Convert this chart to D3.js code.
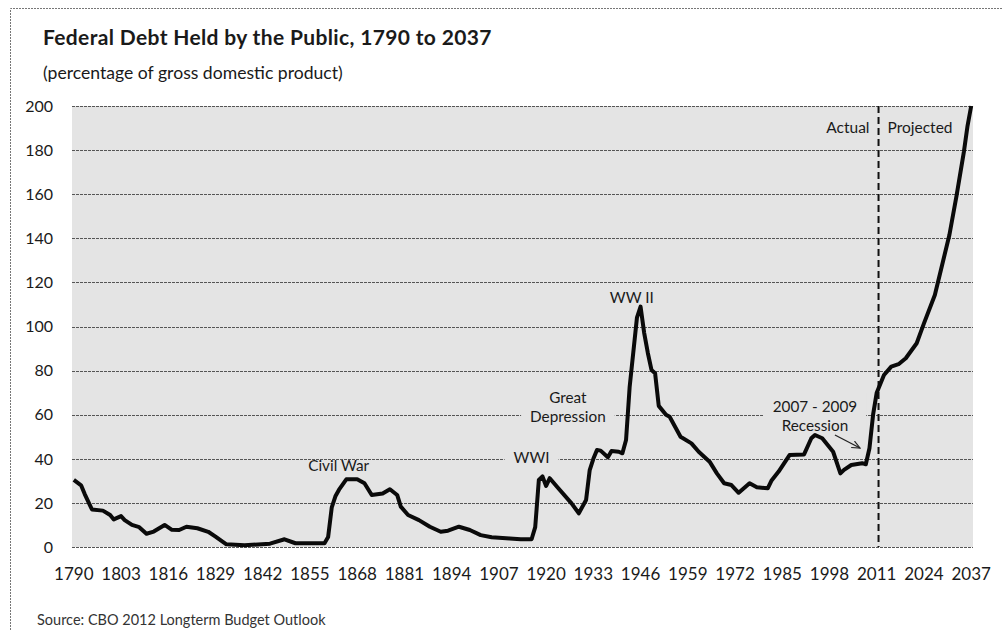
<!DOCTYPE html>
<html>
<head>
<meta charset="utf-8">
<script src="https://cdn.jsdelivr.net/npm/d3@7"></script>
<style>
    body { margin: 0; background: #fff; }
    text { font-family: Lato, "Open Sans", sans-serif; fill: #1a1a1a; }
</style>
</head>
<body>
<div id="chart-container"></div>
<script>
// values (percent of GDP)
const years = [1790, 1792, 1793, 1795, 1798, 1800, 1801, 1803, 1804, 1806, 1808, 1810, 1812, 1815, 1817, 1819,
    1821, 1824, 1827, 1829, 1832, 1837, 1844, 1848, 1851, 1859, 1860, 1861, 1862, 1863, 1865, 1868, 1870,
    1872, 1875, 1877, 1879, 1880, 1882, 1885, 1888, 1891, 1893, 1896, 1899, 1902, 1905, 1910, 1913, 1916,
    1917, 1918, 1919, 1920, 1921, 1923, 1927, 1929, 1931, 1932, 1933, 1934, 1935, 1937, 1938, 1940, 1941,
    1942, 1943, 1945, 1946, 1947, 1948, 1949, 1950, 1951, 1953, 1954, 1957, 1960, 1962, 1965, 1967, 1969,
    1971, 1973, 1976, 1978, 1981, 1982, 1984, 1987, 1991, 1993, 1994, 1996, 1999, 2001, 2002, 2004, 2007,
    2008, 2009, 2010, 2011, 2013, 2015, 2017, 2019, 2022, 2024, 2027, 2029, 2031, 2033, 2035, 2036, 2037];
const debt = [30.4, 28, 24, 17, 16.5, 14.5, 12.5, 14, 12.2, 10, 9, 6, 7, 10, 7.8, 7.7,
    9.2, 8.5, 6.9, 4.7, 1.2, 0.8, 1.5, 3.5, 1.7, 1.7, 4.5, 18, 23, 26, 30.7, 30.7, 28.9,
    23.6, 24.3, 26.2, 23.6, 18.3, 14.5, 12.2, 9.2, 6.9, 7.4, 9.2, 7.7, 5.4, 4.4, 3.9, 3.5, 3.5,
    9, 30.4, 32, 27.7, 31.2, 27.3, 19.8, 15.3, 21.3, 34.9, 40, 44, 43.7, 40.7, 43.5, 43.2, 42.5,
    48.5, 72.7, 104, 109, 97, 88, 80.3, 78.8, 64, 60, 59.1, 50, 47, 43.2, 38.7, 33.4, 28.9,
    28.1, 24.6, 28.9, 27.1, 26.6, 30, 34.2, 41.7, 42, 49.3, 50.8, 49.3, 43.2, 33.4, 35, 37.2, 38,
    37.5, 44.8, 60, 70, 78, 81.8, 82.9, 85.6, 92.4, 101.4, 114.3, 127.9, 141.5, 159.6, 179.3, 191, 200];

const yTicks = [0, 20, 40, 60, 80, 100, 120, 140, 160, 180, 200];
const xTickYears = d3.range(1790, 2038, 13);
const projectionStart = 2011.5;

const annotations = [
    { lines: ["Civil War"], year: 1862.9, value: 34.5, box: false },
    { lines: ["WWI"], year: 1916, value: 38.1, box: true },
    { lines: ["Great", "Depression"], year: 1926, value: 65.3, box: true },
    { lines: ["WW II"], year: 1943.6, value: 110.7, box: false },
    { lines: ["2007 - 2009", "Recession"], year: 1994, value: 61.2, box: true }
];

function makeChart() {
    const W = 1002, H = 630;
    const margin = { top: 106, right: 29, bottom: 83, left: 72 };
    const width = W - margin.left - margin.right;
    const height = H - margin.top - margin.bottom;

    const root = d3.select("#chart-container")
        .append("svg")
        .attr("width", W)
        .attr("height", H);

    // dotted frame round the whole figure
    root.append("path")
        .attr("d", "M10.5,630 L10.5,8.5 L1002,8.5")
        .attr("fill", "none")
        .attr("stroke", "#777")
        .attr("stroke-dasharray", "2,1");

    root.append("text")
        .attr("x", 43).attr("y", 45)
        .style("font-size", "21px")
        .style("font-weight", "bold")
        .style("letter-spacing", "0.35px")
        .text("Federal Debt Held by the Public, 1790 to 2037");

    root.append("text")
        .attr("x", 43).attr("y", 79)
        .style("font-size", "17.6px")
        .text("(percentage of gross domestic product)");

    root.append("text")
        .attr("x", 37).attr("y", 625)
        .style("font-size", "14.5px")
        .style("fill", "#333")
        .text("Source: CBO 2012 Longterm Budget Outlook");

    const svg = root.append("g")
        .attr("transform", "translate(" + margin.left + "," + margin.top + ")");

    const x = d3.scaleLinear().domain([1789.5, 2037.5]).range([0, width]);
    const y = d3.scaleLinear().domain([0, 200]).range([height, 0]);

    const bg = "#e4e4e4";
    svg.append("rect")
        .attr("width", width)
        .attr("height", height)
        .attr("fill", bg);

    svg.selectAll(".grid")
        .data(yTicks)
        .enter()
        .append("line")
        .attr("class", "grid")
        .attr("x1", 0).attr("x2", width)
        .attr("y1", d => Math.round(y(d)) + 0.5)
        .attr("y2", d => Math.round(y(d)) + 0.5)
        .attr("stroke", "#555")
        .attr("stroke-width", 1.2)
        .attr("stroke-dasharray", "3,1");

    svg.selectAll(".ylab")
        .data(yTicks)
        .enter()
        .append("text")
        .attr("class", "ylab")
        .attr("x", -19)
        .attr("y", d => y(d))
        .attr("dy", "0.36em")
        .style("text-anchor", "end")
        .style("font-size", "16px")
        .text(d => d);

    svg.selectAll(".xlab")
        .data(xTickYears)
        .enter()
        .append("text")
        .attr("class", "xlab")
        .attr("x", d => x(d))
        .attr("y", height + 33)
        .style("text-anchor", "middle")
        .style("font-size", "17px")
        .text(d => d);

    // annotation labels, boxes hide the gridlines behind them
    annotations.forEach(a => {
        const g = svg.append("g");
        const t = g.append("text")
            .attr("x", x(a.year))
            .attr("y", y(a.value))
            .style("text-anchor", "middle")
            .style("font-size", "15.3px");
        a.lines.forEach((l, i) => {
            t.append("tspan")
                .attr("x", x(a.year))
                .attr("dy", i === 0 ? 0 : 19)
                .text(l);
        });
        if (a.box) {
            const b = t.node().getBBox();
            g.insert("rect", "text")
                .attr("x", b.x - 9)
                .attr("y", b.y - 5)
                .attr("width", b.width + 18)
                .attr("height", b.height + 10)
                .attr("fill", bg);
        }
    });

    // actual / projected divider
    svg.append("line")
        .attr("x1", x(projectionStart)).attr("x2", x(projectionStart))
        .attr("y1", 0).attr("y2", height)
        .attr("stroke", "#111")
        .attr("stroke-width", 2)
        .attr("stroke-dasharray", "7,4");

    svg.append("text")
        .attr("x", x(projectionStart) - 9)
        .attr("y", y(187.8))
        .style("text-anchor", "end")
        .style("font-size", "15.5px")
        .text("Actual");

    svg.append("text")
        .attr("x", x(projectionStart) + 9)
        .attr("y", y(187.8))
        .style("font-size", "15.5px")
        .text("Projected");

    const points = years.map((yr, i) => [yr, debt[i]]);
    svg.append("path")
        .datum(points)
        .attr("fill", "none")
        .attr("stroke", "#0a0a0a")
        .attr("stroke-width", 4)
        .attr("stroke-linejoin", "round")
        .attr("d", d3.line().x(d => x(d[0])).y(d => y(d[1])));

    // recession arrow
    svg.append("defs").append("marker")
        .attr("id", "arrow")
        .attr("viewBox", "0 0 10 10")
        .attr("refX", 9).attr("refY", 5)
        .attr("markerWidth", 9).attr("markerHeight", 9)
        .attr("markerUnits", "userSpaceOnUse")
        .attr("orient", "auto")
        .append("path")
        .attr("d", "M0,1 L9,5 L0,9")
        .attr("fill", "none")
        .attr("stroke", "#222")
        .attr("stroke-width", 1.3);

    svg.append("line")
        .attr("x1", x(1999.5)).attr("y1", y(50.8))
        .attr("x2", x(2006.4)).attr("y2", y(44.9))
        .attr("stroke", "#222")
        .attr("stroke-width", 1.3)
        .attr("marker-end", "url(#arrow)");
}
makeChart()
</script>
</body>
</html>
